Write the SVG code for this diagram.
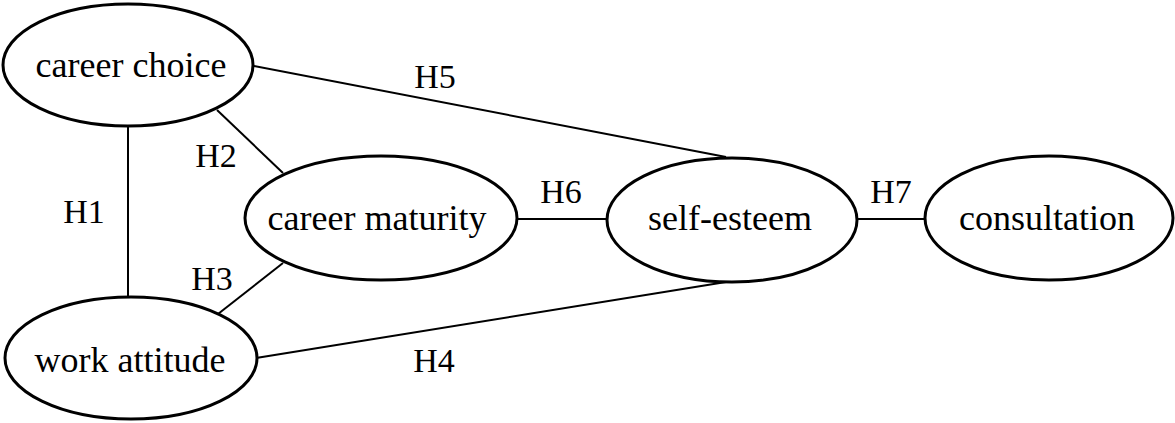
<svg xmlns="http://www.w3.org/2000/svg" width="1175" height="423" viewBox="0 0 1175 423">
  <style>
    .node ellipse { fill: #ffffff; stroke: #000000; stroke-width: 3; }
    .node text { font-family: "Liberation Serif", "Times New Roman", serif; font-size: 36px; fill: #000000; text-anchor: middle; }
    .edge line { stroke: #000000; stroke-width: 2; }
    .edge text { font-family: "Liberation Serif", "Times New Roman", serif; font-size: 34px; fill: #000000; text-anchor: middle; }
  </style>
  <rect width="1175" height="423" fill="#ffffff"/>

  <!-- connectors -->
  <g id="connectors" class="edge">
    <line x1="128" y1="126" x2="128" y2="297"/>
    <text x="84" y="223">H1</text>
    <line x1="217" y1="110" x2="283" y2="173"/>
    <text x="216" y="167">H2</text>
    <line x1="283" y1="263" x2="218" y2="314"/>
    <text x="212" y="290">H3</text>
    <line x1="256" y1="358" x2="726" y2="282"/>
    <text x="434" y="372">H4</text>
    <line x1="254" y1="66" x2="726" y2="157"/>
    <text x="435" y="88">H5</text>
    <line x1="517" y1="219" x2="607" y2="219"/>
    <text x="561" y="203">H6</text>
    <line x1="857" y1="219" x2="925" y2="219"/>
    <text x="891" y="203">H7</text>
  </g>

  <!-- nodes -->
  <g id="career-choice" class="node">
    <ellipse cx="128" cy="65" rx="125" ry="61"/>
    <text x="131" y="77">career choice</text>
  </g>
  <g id="work-attitude" class="node">
    <ellipse cx="131" cy="358" rx="126" ry="61"/>
    <text x="130" y="372">work attitude</text>
  </g>
  <g id="career-maturity" class="node">
    <ellipse cx="381" cy="218" rx="136" ry="62"/>
    <text x="377" y="230">career maturity</text>
  </g>
  <g id="self-esteem" class="node">
    <ellipse cx="732" cy="220" rx="125" ry="62"/>
    <text x="730" y="230">self-esteem</text>
  </g>
  <g id="consultation" class="node">
    <ellipse cx="1049" cy="218" rx="124" ry="62"/>
    <text x="1047" y="230">consultation</text>
  </g>
</svg>
